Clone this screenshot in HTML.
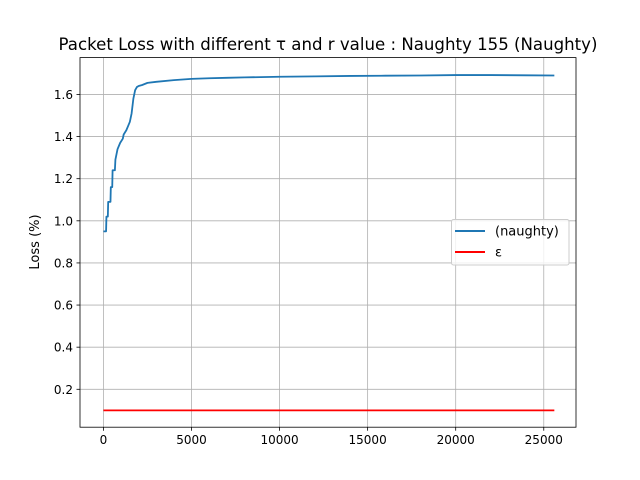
<!DOCTYPE html>
<html><head><meta charset="utf-8"><style>
body{margin:0;background:#fff}
svg{display:block;font-family:"DejaVu Sans","Liberation Sans",sans-serif}
</style></head><body>
<svg id="chart" width="640" height="480">
<rect x="0" y="0" width="640" height="480" fill="#fff"/>
<g id="grid"></g>
<g id="marks"></g>
<rect x="80" y="57.6" width="496" height="369.6" fill="none" stroke="#000" stroke-width="0.8"/>
<g id="ticks"></g>
<text x="328" y="50" font-size="16.6" text-anchor="middle">Packet Loss with different τ and r value : Naughty 155 (Naughty)</text>
<text transform="translate(39,242) rotate(-90)" font-size="13" text-anchor="middle">Loss (%)</text>
<g>
<rect x="451.5" y="219.5" width="117.5" height="45.5" rx="2" fill="#fff" fill-opacity="0.8" stroke="#ccc"/>
<line x1="455" y1="231" x2="485" y2="231" stroke="#1f77b4" stroke-width="2"/>
<text x="495" y="235.5" font-size="13">(naughty)</text>
<line x1="455" y1="252" x2="485" y2="252" stroke="#ff0000" stroke-width="2"/>
<text x="495" y="256.5" font-size="13">ε</text>
</g>
</svg>
<script>
const xTicks=[0,5000,10000,15000,20000,25000];
const yTicks=[0.2,0.4,0.6,0.8,1.0,1.2,1.4,1.6];
const lossX=[0,150,170,250,270,400,420,500,520,650,680,800,950,1100,1150,1300,1400,1500,1600,1700,1800,1900,2000,2200,2500,3000,4000,5000,6000,7000,8000,10000,12000,14000,16000,18000,20000,22000,24000,25600];
const lossY=[0.95,0.95,1.02,1.02,1.09,1.09,1.16,1.16,1.24,1.24,1.29,1.34,1.37,1.39,1.41,1.43,1.45,1.47,1.51,1.58,1.62,1.635,1.64,1.645,1.655,1.66,1.668,1.674,1.677,1.679,1.681,1.684,1.686,1.688,1.689,1.690,1.692,1.692,1.691,1.690];
const epsX=[0,25600];
const epsY=[0.1,0.1];
const X0=-1330,X1=26830,Y0=0.02,Y1=1.775;
const L=80,R=576,T=57.6,B=427.2;
const sx=v=>L+(v-X0)/(X1-X0)*(R-L);
const sy=v=>B-(v-Y0)/(Y1-Y0)*(B-T);
const NS="http://www.w3.org/2000/svg";
const grid=document.getElementById('grid'),ticks=document.getElementById('ticks'),marks=document.getElementById('marks');
function mk(tag,attrs,parent){const e=document.createElementNS(NS,tag);for(const k in attrs)e.setAttribute(k,attrs[k]);parent.appendChild(e);return e;}
xTicks.forEach(v=>{const x=sx(v);
const g=mk('line',{x1:x,x2:x,y1:T,y2:B,stroke:'#b0b0b0','stroke-width':0.8},grid);


mk('line',{x1:x,x2:x,y1:B,y2:B+3.5,stroke:'#000','stroke-width':0.8},ticks);
const t=mk('text',{x:x,y:B+17,'font-size':12,'text-anchor':'middle'},ticks);t.textContent=v;

});
yTicks.forEach(v=>{const y=sy(v);
const g=mk('line',{x1:L,x2:R,y1:y,y2:y,stroke:'#b0b0b0','stroke-width':0.8},grid);


mk('line',{x1:L-3.5,x2:L,y1:y,y2:y,stroke:'#000','stroke-width':0.8},ticks);
const t=mk('text',{x:L-7,y:y+4.5,'font-size':12,'text-anchor':'end'},ticks);t.textContent=v.toFixed(1);

});
function line(xs,ys,color,name){const d=xs.map((v,i)=>(i?'L':'M')+sx(v).toFixed(2)+','+sy(ys[i]).toFixed(2)).join('');
const p=mk('path',{d:d,fill:'none',stroke:color,'stroke-width':1.8,'stroke-linejoin':'round'},marks);

}
line(lossX,lossY,'#1f77b4','naughty-loss-line');
line(epsX,epsY,'#ff0000','epsilon-line');
</script>
</body></html>
